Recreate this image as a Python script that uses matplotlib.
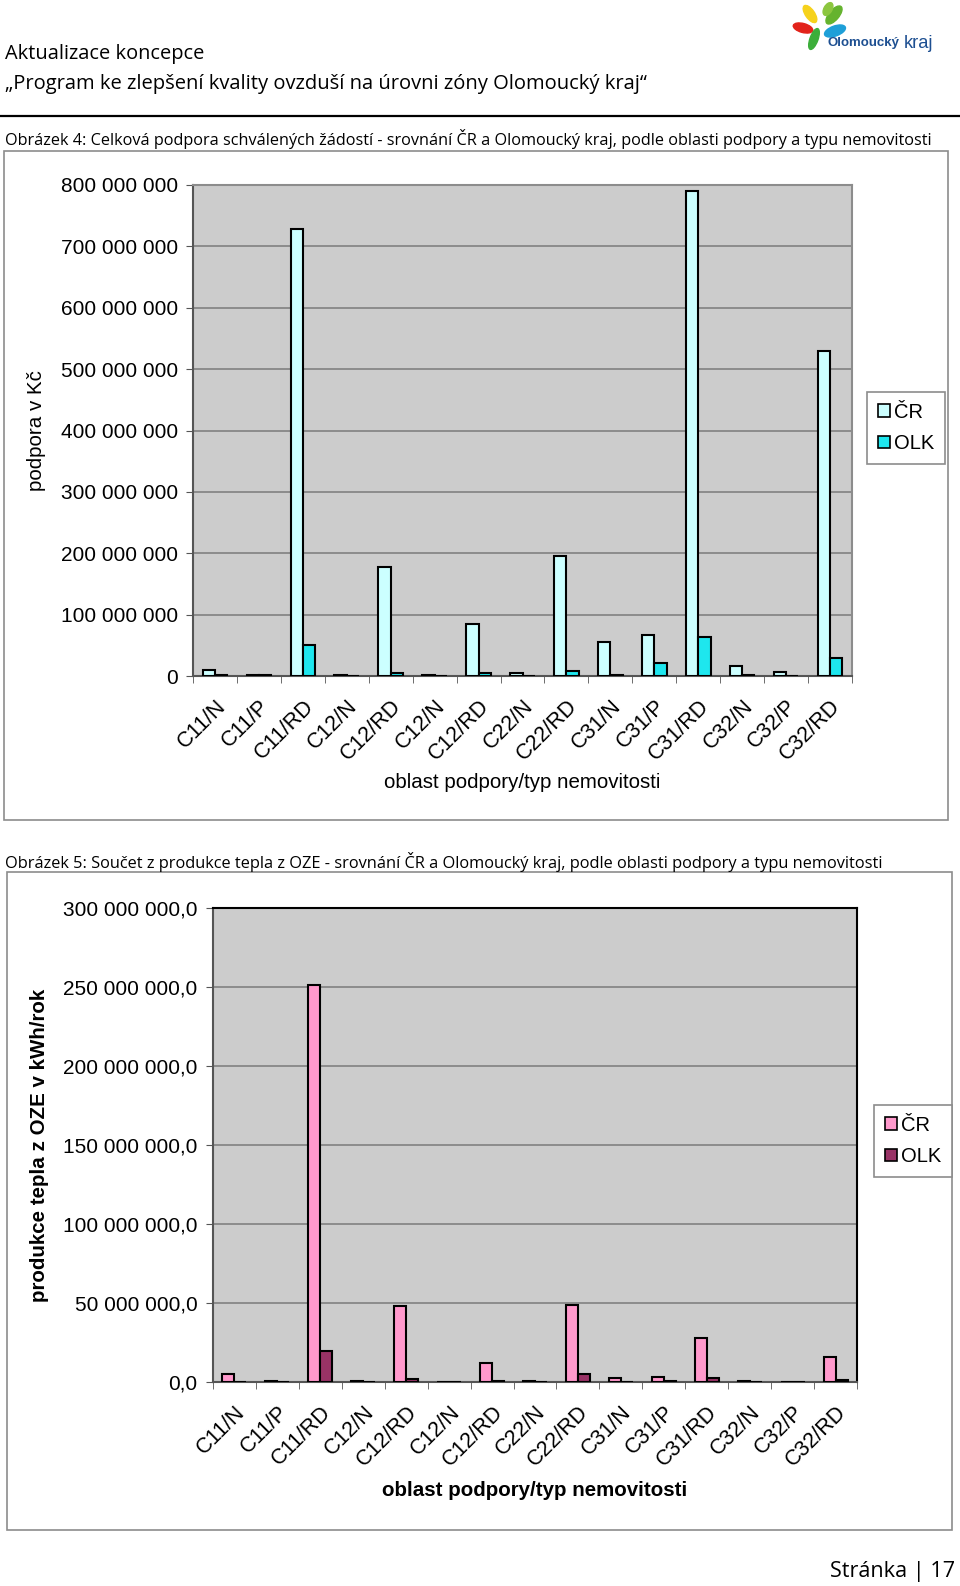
import numpy as np
import matplotlib.pyplot as plt
from matplotlib.patches import Rectangle, Ellipse, Patch
from matplotlib.ticker import FuncFormatter, MultipleLocator, FixedLocator

W, H = 960, 1586

# data
categories = ['C11/N', 'C11/P', 'C11/RD', 'C12/N', 'C12/RD', 'C12/N', 'C12/RD', 'C22/N',
              'C22/RD', 'C31/N', 'C31/P', 'C31/RD', 'C32/N', 'C32/P', 'C32/RD']
support_cr = np.array([10, 2, 728, 1.5, 177, 1, 85, 5, 196, 56, 66, 790, 17, 7, 530]) * 1e6
support_olk = np.array([1, 1, 51, 0.3, 5, 0.2, 5, 0.3, 7.7, 1.5, 21, 63, 1, 0.2, 29]) * 1e6
heat_cr = np.array([5.2, 0.5, 251, 0.5, 48.2, 0.2, 12.2, 0.5, 49, 2.3, 3, 27.8, 0.5, 0.3, 15.6]) * 1e6
heat_olk = np.array([0.2, 0.2, 19.8, 0.1, 1.8, 0.05, 0.8, 0.1, 5.2, 0.2, 0.8, 2.3, 0.1, 0.05, 1.0]) * 1e6
series_names = ['ČR', 'OLK']

ARIAL = ['Liberation Sans', 'DejaVu Sans']
CALIBRI = ['Liberation Sans Narrow', 'Open Sans', 'DejaVu Sans']

fig = plt.figure(figsize=(W / 100, H / 100), dpi=100)
renderer = fig.canvas.get_renderer()


def px_rect(x0, y0, x1, y1):
    return [x0 / W, 1 - y1 / H, (x1 - x0) / W, (y1 - y0) / H]


def fit_text(x, y, s, width, family, ha='left', **kw):
    # scale the font so the text spans the width seen on the page
    t = fig.text(x / W, 1 - y / H, s, fontsize=14, family=family, ha=ha, va='center', **kw)
    w = t.get_window_extent(renderer).width
    t.set_fontsize(14 * width / w)
    return t


# background layer in pixel coordinates (boxes, header line, logo)
bg = fig.add_axes([0, 0, 1, 1], zorder=-5)
bg.set_xlim(0, W)
bg.set_ylim(H, 0)
bg.axis('off')
bg.plot([0, W], [116, 116], color='black', lw=1.6)
bg.add_patch(Rectangle((4, 151), 944, 669, fill=False, ec='#8c8c8c', lw=1.2))
bg.add_patch(Rectangle((7, 872), 945, 658, fill=False, ec='#8c8c8c', lw=1.2))

# logo
for (cx, cy, w, h, ang, col) in [(810, 14, 9, 20, -35, '#f6d21c'), (834, 15, 10, 22, 40, '#65b32e'),
                                 (803, 28, 20, 9, 15, '#e2231a'), (835, 31, 22, 10, -20, '#1e9fd8'),
                                 (814, 39, 8, 22, 20, '#3cae3a'), (828, 9, 8, 14, 30, '#8cc63f')]:
    bg.add_patch(Ellipse((cx, cy), w, h, angle=ang, color=col))
fit_text(828, 43, 'Olomoucký', 72, ARIAL, fontweight='bold', color='#1d4f91')
fit_text(904, 43, 'kraj', 30, ARIAL, color='#1d4f91')

fit_text(5, 54, 'Aktualizace koncepce', 199, CALIBRI)
fit_text(5, 84, '„Program ke zlepšení kvality ovzduší na úrovni zóny Olomoucký kraj“', 643, CALIBRI)
fit_text(5, 139, 'Obrázek 4: Celková podpora schválených žádostí - srovnání ČR a Olomoucký kraj, '
         'podle oblasti podpory a typu nemovitosti', 935, CALIBRI)
fit_text(5, 862, 'Obrázek 5: Součet z produkce tepla z OZE - srovnání ČR a Olomoucký kraj, '
         'podle oblasti podpory a typu nemovitosti', 882, CALIBRI)
fit_text(955, 1571, 'Stránka | 17', 125, CALIBRI, ha='right')

x = np.arange(len(categories))
bw = 0.28


def draw_chart(rect, cr, olk, colors, ymax, step, fmt, ylabel, ylab_x, xlab_y, bold, edge, leg_center):
    ax = fig.add_axes(px_rect(*rect))
    ax.set_facecolor('#cccccc')
    ax.bar(x - bw / 2, cr, bw, color=colors[0], edgecolor='black', lw=1.5, zorder=3)
    ax.bar(x + bw / 2, olk, bw, color=colors[1], edgecolor='black', lw=1.5, zorder=3)
    ax.set_xlim(-0.5, len(categories) - 0.5)
    ax.set_ylim(0, ymax)
    ax.yaxis.set_major_locator(MultipleLocator(step))
    ax.yaxis.set_major_formatter(FuncFormatter(fmt))
    ax.grid(axis='y', color='#7a7a7a', lw=1.1, zorder=1)
    for s in ax.spines.values():
        s.set_color(edge)
        s.set_linewidth(1.5)
    ax.spines['bottom'].set_color('#555555')
    ax.spines['left'].set_color('#555555')
    ax.tick_params(axis='y', length=5, color='#555555', labelsize=15, pad=6)
    ax.set_xticks(x)
    ax.set_xticklabels(categories, rotation=45, ha='right', rotation_mode='anchor',
                       fontsize=15.5, family=ARIAL)
    ax.tick_params(axis='x', length=0, pad=14)
    ax.xaxis.set_minor_locator(FixedLocator(np.arange(-0.5, len(categories), 1)))
    ax.tick_params(axis='x', which='minor', length=5, color='#555555')
    for lab in ax.get_yticklabels():
        lab.set_family(ARIAL)
    weight = 'bold' if bold else 'normal'
    fig.text(ylab_x / W, 1 - (rect[1] + rect[3]) / 2 / H, ylabel, rotation=90, fontsize=14.8,
             family=ARIAL, fontweight=weight, ha='center', va='center')
    fig.text((rect[0] + rect[2]) / 2 / W, 1 - xlab_y / H, 'oblast podpory/typ nemovitosti',
             fontsize=14.8, family=ARIAL, fontweight=weight, ha='center', va='center')
    handles = [Patch(fc=colors[0], ec='black', lw=1.2), Patch(fc=colors[1], ec='black', lw=1.2)]
    leg = fig.legend(handles, series_names, loc='center',
                     bbox_to_anchor=(leg_center[0] / W, 1 - leg_center[1] / H),
                     fancybox=False, edgecolor='#8c8c8c', framealpha=1,
                     handlelength=0.6, handleheight=0.6, handletextpad=0.2,
                     labelspacing=0.6, borderpad=0.55, prop={'family': ARIAL, 'size': 14.5})
    leg.get_frame().set_linewidth(1.2)
    return ax


draw_chart((193, 185, 852, 676), support_cr, support_olk, ['#ccffff', '#1ee6ee'],
           800e6, 100e6, lambda v, p: f'{v:,.0f}'.replace(',', ' '),
           'podpora v Kč', 37, 782, False, '#8c8c8c', (906, 428))

draw_chart((213, 908, 857, 1382), heat_cr, heat_olk, ['#ff99cc', '#993366'],
           300e6, 50e6, lambda v, p: f'{v:,.1f}'.replace(',', ' ').replace('.', ','),
           'produkce tepla z OZE v kWh/rok', 40, 1490, True, 'black', (913, 1141))

fig.savefig('out.png', dpi=100)
